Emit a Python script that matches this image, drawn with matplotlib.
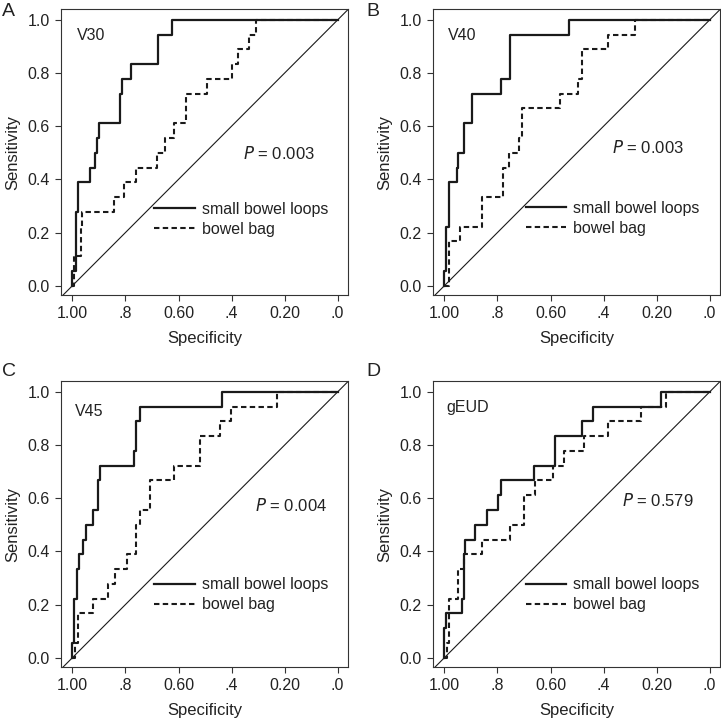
"""
ROC curves (V30, V40, V45, gEUD): small bowel loops vs bowel bag.
Output: out.png
"""
import matplotlib
matplotlib.use("Agg")
import matplotlib.pyplot as plt

plt.rcParams["font.family"] = ["Liberation Sans", "DejaVu Sans"]

# x = 1 - specificity at each step, y = sensitivity after the step
panels = ["A", "B", "C", "D"]
names = ["V30", "V40", "V45", "gEUD"]
p_values = ["0.003", "0.003", "0.004", "0.579"]

sbl_x = [
    [0, 0, 0.012, 0.022, 0.067, 0.084, 0.092, 0.100, 0.180, 0.186, 0.221, 0.324, 0.374, 1.0],
    [0, 0, 0.006, 0.016, 0.046, 0.052, 0.073, 0.104, 0.212, 0.247, 0.469, 1.0],
    [0, 0, 0.007, 0.016, 0.025, 0.041, 0.050, 0.077, 0.095, 0.104, 0.231, 0.239, 0.255, 0.565, 1.0],
    [0, 0, 0.006, 0.066, 0.073, 0.079, 0.117, 0.161, 0.203, 0.212, 0.339, 0.417, 0.519, 0.561, 0.818, 1.0],
]
sbl_y = [
    [0, 0.056, 0.278, 0.389, 0.444, 0.5, 0.556, 0.611, 0.722, 0.778, 0.833, 0.944, 1.0, 1.0],
    [0, 0.056, 0.222, 0.389, 0.444, 0.5, 0.611, 0.722, 0.778, 0.944, 1.0, 1.0],
    [0, 0.056, 0.222, 0.333, 0.389, 0.444, 0.5, 0.556, 0.667, 0.722, 0.778, 0.889, 0.944, 1.0, 1.0],
    [0, 0.111, 0.167, 0.222, 0.389, 0.444, 0.5, 0.556, 0.611, 0.667, 0.722, 0.833, 0.889, 0.944, 1.0, 1.0],
]
bag_x = [
    [0, 0.005, 0.031, 0.037, 0.155, 0.196, 0.240, 0.318, 0.349, 0.384, 0.428, 0.506, 0.600, 0.623, 0.666, 0.691, 1.0],
    [0, 0.016, 0.058, 0.142, 0.220, 0.245, 0.282, 0.291, 0.435, 0.504, 0.519, 0.615, 0.718, 1.0],
    [0, 0.010, 0.022, 0.079, 0.136, 0.161, 0.205, 0.240, 0.255, 0.293, 0.384, 0.481, 0.556, 0.598, 0.770, 1.0],
    [0, 0.009, 0.019, 0.050, 0.073, 0.143, 0.247, 0.301, 0.341, 0.410, 0.452, 0.526, 0.615, 0.743, 0.834, 1.0],
]
bag_y = [
    [0, 0.111, 0.222, 0.278, 0.333, 0.389, 0.444, 0.5, 0.556, 0.611, 0.722, 0.778, 0.833, 0.889, 0.944, 1.0, 1.0],
    [0, 0.167, 0.222, 0.333, 0.444, 0.5, 0.556, 0.667, 0.722, 0.778, 0.889, 0.944, 1.0, 1.0],
    [0, 0.056, 0.167, 0.222, 0.278, 0.333, 0.389, 0.5, 0.556, 0.667, 0.722, 0.833, 0.889, 0.944, 1.0, 1.0],
    [0, 0.056, 0.222, 0.333, 0.389, 0.444, 0.5, 0.611, 0.667, 0.722, 0.778, 0.833, 0.889, 0.944, 1.0, 1.0],
]

x_ticks = [0, 0.2, 0.4, 0.6, 0.8, 1.0]
x_ticklabels = ["1.00", ".8", "0.60", ".4", "0.20", ".0"]
y_ticks = [0, 0.2, 0.4, 0.6, 0.8, 1.0]
y_ticklabels = ["0.0", "0.2", "0.4", "0.6", "0.8", "1.0"]

# layout (pixels of a 721 x 721 canvas)
W = 721.0
boxes = [(61, 9), (433, 9), (61, 381), (433, 381)]
box_w, box_h = 287, 286
letter_pos = [(2, 3), (366, 3), (2, 363), (366, 363)]
name_pos = [(0.016, 0.943), (0.015, 0.943), (0.008, 0.928), (0.009, 0.943)]
p_pos = [(0.644, 0.496), (0.63, 0.519), (0.688, 0.571), (0.67, 0.59)]
leg_pos = [(0.309, 0.25), (0.306, 0.253), (0.309, 0.237), (0.306, 0.237)]

DASH = (0, (2.6, 1.6))
ink = "#1a1a1a"
txt = "#222222"

fig = plt.figure(figsize=(7.21, 7.21), dpi=100)
for i in range(4):
    bx, by = boxes[i]
    ax = fig.add_axes([bx / W, 1 - (by + box_h) / W, box_w / W, box_h / W])
    ax.plot([-0.1, 1.1], [-0.1, 1.1], color=ink, lw=0.8)
    h1, = ax.step(sbl_x[i], sbl_y[i], where="post", color=ink, lw=1.6,
                  label="small bowel loops")
    h2, = ax.step(bag_x[i], bag_y[i], where="post", color=ink, lw=1.5,
                  linestyle=DASH, label="bowel bag")
    ax.set_xlim(-0.043, 1.039)
    ax.set_ylim(-0.035, 1.041)
    ax.set_xticks(x_ticks)
    ax.set_xticklabels(x_ticklabels)
    ax.set_yticks(y_ticks)
    ax.set_yticklabels(y_ticklabels)
    ax.tick_params(direction="out", length=4, width=0.8, color="#333333",
                   labelsize=11.5, labelcolor=txt, pad=4)
    for s in ax.spines.values():
        s.set_linewidth(0.8)
        s.set_color("#333333")
    ax.set_xlabel("Specificity", fontsize=12, color=txt, labelpad=7)
    ax.set_ylabel("Sensitivity", fontsize=12, color=txt, labelpad=5)

    ax.text(name_pos[i][0], name_pos[i][1], names[i], fontsize=11.5,
            color=txt, va="center", ha="left")
    ax.text(p_pos[i][0], p_pos[i][1], "$\\mathit{P}$ = " + p_values[i],
            fontsize=12, color=txt, va="center", ha="left")
    ax.legend(handles=[h1, h2], loc="center left", bbox_to_anchor=leg_pos[i],
              bbox_transform=ax.transData, frameon=False, fontsize=11.5,
              borderpad=0, borderaxespad=0, handlelength=2.55,
              handletextpad=0.42, labelspacing=0.3, labelcolor=txt)

    lx, ly = letter_pos[i]
    fig.text(lx / W, 1 - ly / W, panels[i], fontsize=14, color=txt,
             va="top", ha="left")

plt.savefig("out.png", dpi=100)
plt.close()
